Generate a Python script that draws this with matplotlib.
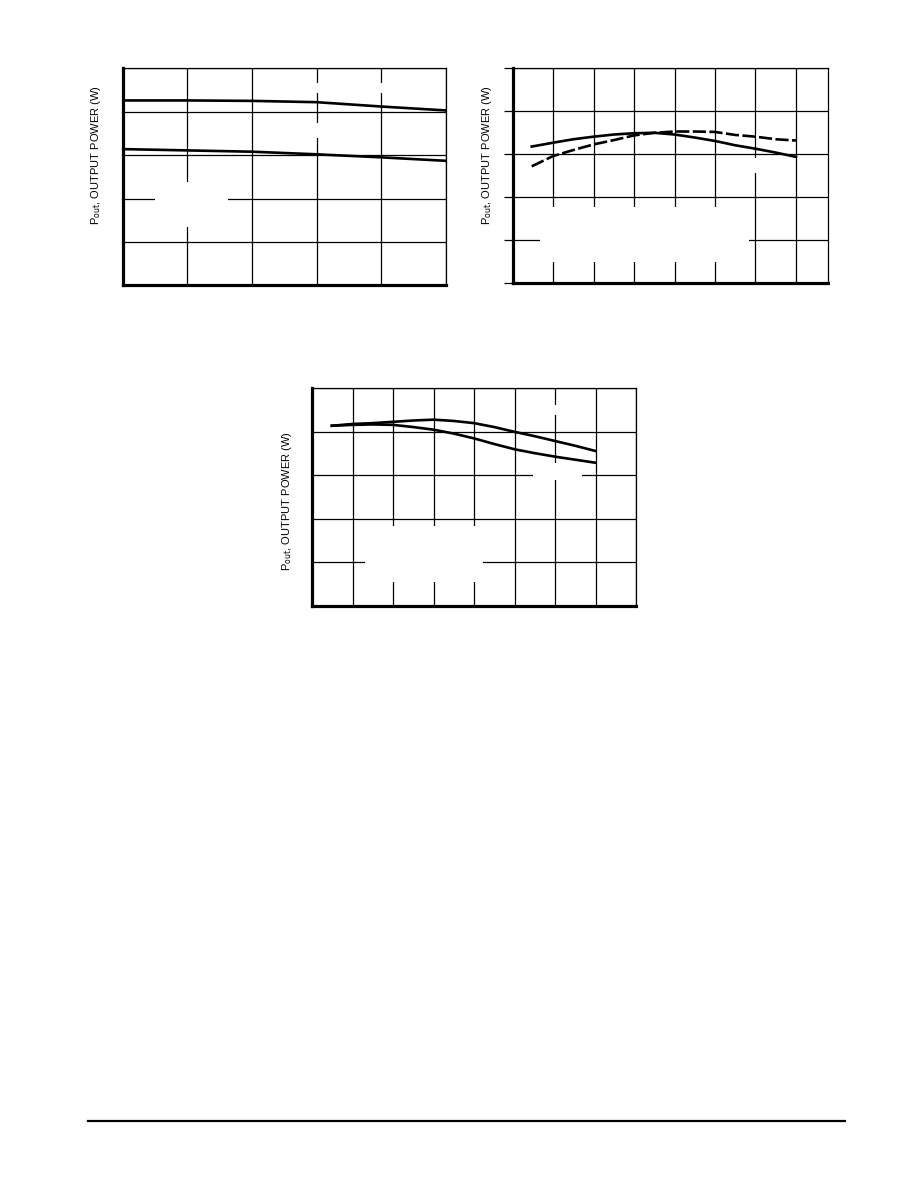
import matplotlib
matplotlib.use("Agg")
import matplotlib.pyplot as plt
from matplotlib.patches import Rectangle
from matplotlib.lines import Line2D

# ---------------- data (grid-division units) ----------------
p1_x = [0, 1, 2, 3, 4, 5]
p1_upper = [4.26, 4.26, 4.25, 4.22, 4.12, 4.03]
p1_lower = [3.14, 3.11, 3.08, 3.02, 2.95, 2.87]

p2_x = [0.47, 1, 1.5, 2, 2.5, 3, 3.5, 4, 4.5, 5, 5.5, 6, 6.5, 7]
p2_solid = [3.18, 3.27, 3.35, 3.41, 3.46, 3.49, 3.50, 3.46, 3.39, 3.31, 3.21, 3.13, 3.04, 2.94]
p2_dashed = [2.72, 2.96, 3.10, 3.23, 3.33, 3.44, 3.50, 3.53, 3.53, 3.52, 3.45, 3.41, 3.35, 3.32]

p3_x = [0.49, 1, 1.5, 2, 2.5, 3, 3.5, 4, 4.5, 5, 5.5, 6, 6.5, 7]
p3_a = [4.14, 4.18, 4.20, 4.23, 4.26, 4.28, 4.25, 4.20, 4.11, 4.00, 3.90, 3.79, 3.68, 3.56]
p3_b = [4.14, 4.16, 4.17, 4.16, 4.11, 4.05, 3.96, 3.85, 3.72, 3.60, 3.51, 3.43, 3.36, 3.29]

ylabel_text = "P$_{\\mathrm{out}}$, OUTPUT POWER (W)"

# ---------------- style ----------------
plt.rcParams['font.family'] = ['Liberation Sans Narrow', 'Liberation Sans', 'DejaVu Sans']
plt.rcParams['mathtext.fontset'] = 'custom'
plt.rcParams['mathtext.rm'] = 'Liberation Sans Narrow'
plt.rcParams['mathtext.it'] = 'Liberation Sans Narrow'

W, H = 918, 1188
fig = plt.figure(figsize=(W / 100, H / 100), dpi=100)
fig.patch.set_facecolor('white')


def px_axes(l, t, r, b):
    return fig.add_axes([l / W, 1 - b / H, (r - l) / W, (b - t) / H])


def style(ax, xmax, ticks_left=False):
    ax.set_xlim(0, xmax)
    ax.set_ylim(0, 5)
    ax.set_xticks(range(0, int(xmax) + 1))
    ax.set_yticks(range(0, 6))
    ax.set_xticklabels([])
    ax.set_yticklabels([])
    ax.grid(True, color='black', linewidth=0.9)
    ax.tick_params(axis='x', length=0)
    if ticks_left:
        ax.tick_params(axis='y', length=6.5, width=0.9, direction='out', color='black')
    else:
        ax.tick_params(axis='y', length=0)
    for s in ['left', 'bottom']:
        ax.spines[s].set_linewidth(2.3)
    for s in ['top', 'right']:
        ax.spines[s].set_linewidth(0.9)
    for s in ax.spines.values():
        s.set_color('black')


def mask(ax, x0, x1, y0, y1):
    ax.add_patch(Rectangle((x0, y0), x1 - x0, y1 - y0, facecolor='white',
                           edgecolor='none', zorder=1.8))


LW = 1.9

# ---------------- plot 1 ----------------
ax1 = px_axes(122.7, 68.3, 446, 285.5)
style(ax1, 5)
ax1.plot(p1_x, p1_upper, color='black', lw=LW, zorder=3)
ax1.plot(p1_x, p1_lower, color='black', lw=LW, zorder=3)
mask(ax1, 0.50, 1.63, 1.35, 2.38)
mask(ax1, 2.74, 4.21, 4.44, 4.67)
mask(ax1, 2.82, 3.20, 3.40, 3.74)
fig.text(96 / W, 1 - 155 / H, ylabel_text, rotation=90, ha='center', va='center', fontsize=8)

# ---------------- plot 2 ----------------
ax2 = px_axes(512.7, 68.3, 828.3, 283.3)
style(ax2, 7.8, ticks_left=True)
ax2.plot(p2_x, p2_solid, color='black', lw=LW, zorder=3)
ax2.plot(p2_x, p2_dashed, color='black', lw=LW, zorder=3, dashes=(5, 1.3))
mask(ax2, 0.68, 5.83, 0.50, 1.77)
mask(ax2, 5.83, 6.17, 2.57, 2.91)
fig.text(487 / W, 1 - 155 / H, ylabel_text, rotation=90, ha='center', va='center', fontsize=8)

# ---------------- plot 3 ----------------
ax3 = px_axes(312, 388.3, 636, 606)
style(ax3, 8)
ax3.plot(p3_x, p3_a, color='black', lw=LW, zorder=3)
ax3.plot(p3_x, p3_b, color='black', lw=LW, zorder=3)
mask(ax3, 1.31, 4.22, 0.55, 1.84)
mask(ax3, 5.46, 6.67, 2.90, 3.29)
mask(ax3, 5.75, 6.20, 4.39, 4.62)
fig.text(287 / W, 1 - 501 / H, ylabel_text, rotation=90, ha='center', va='center', fontsize=8)

# ---------------- footer rule ----------------
fig.add_artist(Line2D([88 / W, 845 / W], [1 - 1121 / H, 1 - 1121 / H],
                      color='black', linewidth=1.6))

fig.savefig('out.png', dpi=100, facecolor='white')
